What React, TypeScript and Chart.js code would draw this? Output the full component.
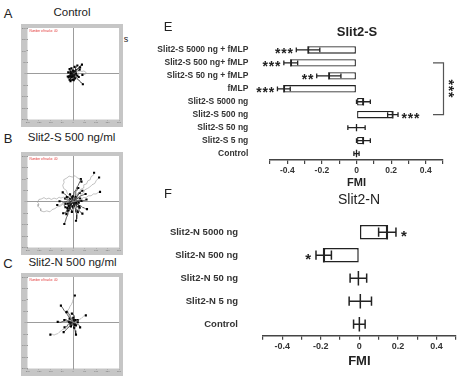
import React, { useEffect, useRef } from 'react';
import { Chart, registerables } from 'chart.js';
Chart.register(...registerables);

type Pt = [number, number];

// ---------- Panel E data ----------
const labelsE = ['Slit2-S 5000 ng + fMLP', 'Slit2-S 500 ng+ fMLP', 'Slit2-S 50 ng + fMLP', 'fMLP', 'Slit2-S 5000 ng', 'Slit2-S 500 ng', 'Slit2-S 50 ng', 'Slit2-S 5 ng', 'Control'];
const meansE = [-0.28, -0.38, -0.16, -0.42, 0.04, 0.21, 0, 0.04, 0];
const errsE = [0.068, 0.04, 0.07, 0.037, 0.04, 0.03, 0.05, 0.04, 0.015];
const starsE = ['***', '***', '**', '***', '', '***', '', '', ''];
const bracketE: [number, number] = [1, 5];
const bracketStarsE = '***';

// ---------- Panel F data ----------
const labelsF = ['Slit2-N 5000 ng', 'Slit2-N 500 ng', 'Slit2-N 50 ng', 'Slit2-N 5 ng', 'Control'];
const meansF = [0.145, -0.185, -0.005, 0.005, 0];
const errsF = [0.045, 0.04, 0.043, 0.058, 0.03];
const starsF = ['*', '*', '', '', ''];

const fmiTicks = [-0.4, -0.2, 0, 0.2, 0.4];

// ---------- Trajectory data (µm) ----------
const tracksAGray: Pt[][] = [
  [[0, 0], [8, 4], [14, 10], [22, 8], [30, 12], [38, 10], [46, 12], [54, 8], [57, 2], [52, -3], [44, -2], [40, -5]],
];
const tracksABlack: Pt[][] = [
  [[0, 0], [4, 8], [10, 10], [12, 18], [20, 20], [24, 28], [30, 30], [34, 38], [38, 40]],
  [[0, 0], [6, -6], [8, -14], [16, -18], [20, -26], [28, -30], [32, -38], [38, -40], [42, -46]],
  [[0, 0], [-4, 4], [-6, 10], [-12, 12], [-14, 18], [-16, 20]],
  [[0, 0], [-6, -2], [-8, -8], [-14, -10], [-16, -14], [-20, -16]],
  [[0, 0], [4, -6], [2, -12], [6, -18], [4, -24], [2, -28]],
  [[0, 0], [-6, 2], [-10, 6], [-14, 2], [-18, 4], [-22, 6]],
  [[0, 0], [4, 6], [2, 12], [8, 16], [10, 22], [6, 26], [6, 30]],
  [[0, 0], [6, 4], [10, 10], [16, 10], [20, 14], [24, 14], [28, 18]],
  [[0, 0], [-2, -8], [-6, -12], [-4, -20], [-10, -24], [-8, -30], [-12, -32]],
  [[0, 0], [6, -2], [10, -8], [16, -8], [20, -12], [24, -14]],
  [[0, 0], [-6, -4], [-10, -2], [-14, -8], [-20, -8], [-24, -12]],
  [[0, 0], [2, 6], [-2, 10], [-2, 16], [-6, 20], [-8, 24]],
  [[0, 0], [4, 2], [8, 0], [12, -2], [14, -6], [18, -8]],
  [[0, 0], [-2, -6], [2, -10], [4, -14], [6, -18], [8, -20]],
  [[0, 0], [8, 10], [12, 16], [18, 20], [24, 26], [30, 28]],
  [[0, 0], [-4, -2], [-6, -6], [-10, -8]],
  [[0, 0], [2, 4], [6, 6], [10, 4]],
  [[0, 0], [-2, 4], [-6, 2], [-8, 0]],
  [[0, 0], [2, -4], [0, -8], [-4, -10]],
  [[0, 0], [4, 0], [6, -4], [4, -8]],
  [[0, 0], [-4, 6], [-6, 10], [-2, 14]],
  [[0, 0], [4, 8], [10, 14], [10, 22], [14, 30], [18, 36]],
  [[0, 0], [-6, -8], [-14, -14], [-10, -20], [-14, -24], [-16, -26]],
  [[0, 0], [-4, -2], [-6, 4], [-10, 2]],
  [[0, 0], [2, 4], [-2, 8], [0, 12]],
  [[0, 0], [-2, -4], [2, -8], [-1, -12]],
  [[0, 0], [4, -2], [8, 2], [12, 0]],
  [[0, 0], [-4, 6], [-8, 4], [-12, 8]],
  [[0, 0], [-6, -6], [-4, -10], [-8, -14]],
  [[0, 0], [6, 2], [4, 8], [8, 10]],
  [[0, 0], [-2, -6], [-6, -4], [-10, -8]],
  [[0, 0], [-8, 0], [-10, -6], [-14, -4], [-16, -10]],
  [[0, 0], [2, -10], [-2, -16], [0, -22], [-4, -26]],
];

const tracksBGray: Pt[][] = [
  [[0, 0], [-12, 6], [-20, 14], [-32, 12], [-42, 20], [-54, 16], [-62, 20], [-72, 12], [-84, 16], [-96, 10], [-106, 16], [-118, 12], [-128, 18], [-140, 12], [-150, 10], [-156, -2], [-150, -10], [-154, -20], [-144, -30], [-142, -40], [-128, -44], [-116, -40], [-102, -44], [-92, -34], [-80, -30], [-70, -22], [-56, -20], [-46, -10], [-34, -8]],
  [[0, 0], [4, 12], [14, 20], [16, 34], [28, 40], [32, 54], [44, 60], [46, 74], [58, 78], [64, 92], [74, 96], [78, 110], [88, 116], [91, 127]],
  [[0, 0], [12, 6], [18, 18], [30, 22], [34, 34], [46, 40], [50, 52], [62, 58], [72, 64], [82, 74], [94, 80], [100, 92], [113, 106]],
  [[0, 0], [12, 2], [22, 10], [34, 10], [44, 18], [56, 18], [66, 26], [78, 26], [88, 34], [100, 34], [108, 40], [117, 43]],
  [[0, 0], [-8, 12], [-14, 26], [-26, 36], [-30, 50], [-42, 58], [-46, 72], [-40, 84], [-42, 96], [-28, 104], [-18, 112], [-4, 108], [8, 114], [18, 104], [28, 100], [36, 88]],
  [[0, 0], [-14, -6], [-26, -2], [-36, -12], [-48, -8], [-58, -16], [-70, -14]],
];
const tracksBBlack: Pt[][] = [
  [[0, 0], [-4, 10], [-6, 22], [2, 30], [4, 42], [12, 52], [16, 64], [22, 72], [26, 82], [30, 90], [33, 99]],
  [[0, 0], [-6, -10], [-12, -22], [-14, -34], [-22, -46], [-24, -58], [-30, -70], [-34, -84], [-39, -97]],
  [[0, 0], [-8, -8], [-16, -16], [-18, -26], [-24, -34], [-26, -44], [-30, -54]],
  [[0, 0], [4, -12], [6, -22], [10, -34], [12, -46], [16, -56], [14, -66], [16, -76], [12, -83]],
  [[0, 0], [8, -6], [18, -10], [26, -16], [36, -20], [42, -26], [48, -26], [54, -32], [60, -32]],
  [[0, 0], [-8, 6], [-16, 14], [-22, 20], [-30, 28], [-38, 34], [-46, 41]],
  [[0, 0], [6, 10], [14, 20], [18, 28], [26, 36], [32, 44], [40, 48]],
  [[0, 0], [10, 4], [20, 6], [30, 2], [40, 4], [50, 6], [58, 10]],
  [[0, 0], [-12, 2], [-24, 4], [-34, 0], [-44, -2], [-52, 2], [-60, 2]],
  [[0, 0], [-10, -14], [-20, -30], [-28, -38], [-34, -48], [-44, -50]],
  [[0, 0], [12, -12], [24, -28], [26, -38], [30, -44], [40, -52]],
  [[0, 0], [4, 14], [8, 28], [10, 36], [12, 44], [18, 52], [22, 60]],
  [[0, 0], [-6, 4], [-10, 10], [-16, 16], [-22, 24], [-28, 20]],
  [[0, 0], [6, -8], [12, -14], [16, -20], [20, -24], [26, -20]],
  [[0, 0], [-4, -6], [-8, -12], [-12, -16], [-14, -20], [-20, -18]],
  [[0, 0], [6, 4], [10, 8], [16, 12], [18, 16], [24, 16], [30, 14]],
  [[0, 0], [-8, 2], [-14, 0], [-18, -4], [-24, -8]],
  [[0, 0], [4, 6], [6, 14], [2, 20], [-2, 24]],
  [[0, 0], [4, -6], [4, -10], [0, -16], [-4, -20]],
  [[0, 0], [8, 2], [16, 4], [20, 0], [24, -4]],
  [[0, 0], [-4, 2], [-6, 6], [-10, 10], [-14, 12]],
  [[0, 0], [14, 10], [22, 18], [30, 24], [38, 28], [44, 30], [54, 34]],
  [[0, 0], [-14, -2], [-24, -6], [-30, -10], [-40, -16], [-34, -24]],
  [[0, 0], [-6, -4], [-10, -2], [-12, -8], [-16, -6]],
  [[0, 0], [4, -4], [8, -2], [10, -8], [14, -6]],
  [[0, 0], [-4, 6], [-2, 10], [-8, 12], [-6, 18]],
  [[0, 0], [6, 6], [4, 12], [10, 14], [12, 20]],
  [[0, 0], [-10, -8], [-12, -14], [-18, -12], [-22, -20], [-26, -28]],
  [[0, 0], [10, -4], [14, -12], [20, -10], [24, -16], [28, -26]],
  [[0, 0], [-12, 8], [-18, 6], [-24, 12], [-30, 10], [-36, 14]],
  [[0, 0], [2, -14], [-4, -22], [-2, -30], [-8, -36], [-6, -44]],
  [[0, 0], [12, 14], [14, 22], [20, 26], [22, 34], [28, 38]],
  [[0, 0], [-2, 8], [-8, 14], [-6, 20], [-12, 24], [-14, 32]],
  [[0, 0], [8, -16], [14, -22], [12, -30], [18, -36], [20, -46]],
  [[0, 0], [-14, -16], [-18, -24], [-16, -32], [-22, -38]],
  [[0, 0], [6, 2], [12, -2], [16, 4], [22, 2], [30, 6], [36, 4]],
];

const tracksCGray: Pt[][] = [
  [[0, 0], [-4, 10], [-8, 18], [-14, 26], [-18, 36], [-22, 44], [-24, 54], [-18, 62], [-14, 72], [-8, 80], [-4, 90], [-2, 98], [2, 106], [4, 114], [7, 119]],
  [[0, 0], [-10, -8], [-20, -16], [-30, -18], [-38, -26], [-48, -30], [-54, -36], [-62, -42], [-68, -48], [-76, -50], [-84, -54], [-92, -50], [-100, -52]],
  [[0, 0], [8, 2], [14, 8], [20, 10], [26, 14], [34, 18], [40, 24], [44, 28], [48, 30], [55, 32]],
  [[0, 0], [-8, 14], [-14, 24], [-20, 30], [-24, 40], [-30, 46]],
];
const tracksCBlack: Pt[][] = [
  [[0, 0], [-6, 8], [-12, 18], [-20, 26], [-26, 36], [-32, 46], [-40, 54], [-46, 64], [-54, 75]],
  [[0, 0], [-6, -8], [-14, -14], [-20, -20], [-28, -26], [-34, -34], [-42, -41]],
  [[0, 0], [2, -8], [4, -18], [6, -26], [8, -34], [10, -44], [12, -52]],
  [[0, 0], [-10, 2], [-22, 4], [-32, 8], [-44, 6], [-56, 2], [-68, 4]],
  [[0, 0], [-8, 2], [-14, 6], [-20, 8], [-26, 10], [-32, 14], [-39, 12]],
  [[0, 0], [-4, 12], [-10, 24], [-14, 32], [-20, 40], [-24, 46], [-28, 48]],
  [[0, 0], [8, -2], [14, -6], [20, -6], [24, -10], [28, -14], [30, -20]],
  [[0, 0], [-10, -2], [-20, -4], [-24, -10], [-30, -18], [-38, -20]],
  [[0, 0], [4, 8], [6, 16], [4, 24], [4, 30], [0, 36], [-6, 40]],
  [[0, 0], [-4, 4], [-8, 8], [-12, 12], [-16, 18]],
  [[0, 0], [6, 4], [10, 6], [16, 4], [20, 2]],
  [[0, 0], [-2, -4], [-6, -8], [-8, -12], [-10, -16]],
  [[0, 0], [4, -2], [8, -4], [10, -8], [12, -12]],
  [[0, 0], [-2, 6], [-4, 12], [-2, 18], [0, 22]],
  [[0, 0], [-6, -2], [-12, -2], [-14, 2], [-18, 4]],
  [[0, 0], [2, 2], [4, 4], [6, 8], [10, 12]],
  [[0, 0], [0, -6], [-2, -12], [2, -16], [4, -22]],
  [[0, 0], [-4, -2], [-6, 2], [-10, 0]],
  [[0, 0], [2, -4], [6, -6], [8, -10]],
  [[0, 0], [-2, 4], [2, 8], [4, 12]],
  [[0, 0], [-6, -6], [-8, -10], [-12, -8]],
  [[0, 0], [8, 8], [12, 10], [16, 14], [20, 12]],
];

const trackCounts = [40, 40, 40];
const trackAxisTicks = { min: -200, max: 200, step: 50 };

const FONT = '"Liberation Sans", Arial, sans-serif';

// ---------- Trajectory plot ----------
function TrackPlot(props: { left: number; top: number; gray: Pt[][]; black: Pt[][]; count: number }) {
  const ref = useRef<HTMLCanvasElement>(null);
  useEffect(() => {
    const mk = (t: Pt[], color: string, w: number) => ({
      data: t.map(([x, y]) => ({ x, y })),
      showLine: true,
      borderColor: color,
      borderWidth: w,
      tension: 0,
      pointRadius: t.map((_, i) => (i === t.length - 1 ? 1.5 : 0)),
      pointStyle: 'rect',
      pointBackgroundColor: '#000',
      pointBorderWidth: 0,
    });
    const frame = {
      id: 'frame',
      beforeDraw(chart: any) {
        const { ctx, chartArea: a, width, height } = chart;
        ctx.save();
        ctx.fillStyle = '#c6c6c6';
        ctx.fillRect(0, 0, width, height);
        ctx.fillStyle = '#fff';
        ctx.fillRect(a.left, a.top, a.right - a.left, a.bottom - a.top);
        ctx.restore();
      },
      afterDraw(chart: any) {
        const { ctx, chartArea: a } = chart;
        ctx.save();
        ctx.fillStyle = '#e03030';
        ctx.font = `3px ${FONT}`;
        ctx.textBaseline = 'middle';
        ctx.fillText(`Number of tracks: ${props.count}`, a.left + 2, a.top + 3.2);
        ctx.restore();
      },
    };
    const axis = (fit: (s: any) => void) => ({
      type: 'linear',
      min: trackAxisTicks.min,
      max: trackAxisTicks.max,
      ticks: { stepSize: trackAxisTicks.step, font: { size: 2.5, family: FONT }, color: '#777', padding: 0.5, autoSkip: false, maxRotation: 0 },
      grid: {
        color: (c: any) => (c.tick && c.tick.value === 0 ? '#9c9c9c' : 'rgba(0,0,0,0)'),
        lineWidth: 1,
        tickLength: 1,
        tickColor: '#999',
      },
      border: { display: false },
      afterFit: fit,
    });
    const chart = new Chart(ref.current!, {
      type: 'scatter',
      data: {
        datasets: [
          ...props.gray.map((t) => mk(t, '#9a9a9a', 0.6)),
          ...props.black.map((t) => mk(t, '#1a1a1a', 0.7)),
        ] as any,
      },
      options: {
        responsive: false,
        animation: false,
        layout: { padding: { top: 2, right: 3, left: 0, bottom: 0 } },
        plugins: { legend: { display: false }, tooltip: { enabled: false } },
        scales: {
          x: axis((s: any) => { s.height = 7.5; }),
          y: axis((s: any) => { s.width = 6.5; }),
        } as any,
      },
      plugins: [frame],
    });
    return () => chart.destroy();
  }, []);
  return (
    <div style={{ position: 'absolute', left: props.left, top: props.top, width: 102, height: 103 }}>
      <canvas ref={ref} width={102} height={103} />
    </div>
  );
}

// ---------- Bar panel ----------
type BarProps = {
  left: number; top: number; width: number; height: number;
  labels: string[]; means: number[]; errs: number[]; stars: string[];
  padTop: number; padRight: number; yWidth: number; xHeight: number;
  labelPad: number; labelSize: number; tickSize: number; tickPad: number;
  titleSize: number; titlePadBottom: number; borderW: number; barPct: number;
  starSize: number; starGap: number; bracket?: [number, number]; bracketStars?: string;
};

function BarPanel(p: BarProps) {
  const ref = useRef<HTMLCanvasElement>(null);
  useEffect(() => {
    const errPlugin = {
      id: 'errs',
      afterDatasetsDraw(chart: any) {
        const { ctx, chartArea: a } = chart;
        const meta = chart.getDatasetMeta(0);
        const xs = chart.scales.x;
        ctx.save();
        ctx.strokeStyle = '#222';
        ctx.fillStyle = '#222';
        ctx.lineWidth = p.borderW;
        meta.data.forEach((bar: any, i: number) => {
          const y = bar.y;
          const h = bar.height;
          const x0 = xs.getPixelForValue(p.means[i]);
          const x1 = xs.getPixelForValue(p.means[i] - p.errs[i]);
          const x2 = xs.getPixelForValue(p.means[i] + p.errs[i]);
          const c = h * 0.32;
          ctx.beginPath();
          ctx.moveTo(x0, y - h / 2); ctx.lineTo(x0, y + h / 2);
          ctx.moveTo(x1, y); ctx.lineTo(x2, y);
          ctx.moveTo(x1, y - c); ctx.lineTo(x1, y + c);
          ctx.moveTo(x2, y - c); ctx.lineTo(x2, y + c);
          ctx.stroke();
          const s = p.stars[i];
          if (s) {
            ctx.font = `bold ${p.starSize}px ${FONT}`;
            (ctx as any).letterSpacing = '0.8px';
            ctx.textBaseline = 'alphabetic';
            if (p.means[i] < 0) {
              ctx.textAlign = 'right';
              ctx.fillText(s, x1 - p.starGap, y + p.starSize * 0.6);
            } else {
              ctx.textAlign = 'left';
              ctx.fillText(s, x2 + p.starGap + 1, y + p.starSize * 0.6);
            }
            (ctx as any).letterSpacing = '0px';
          }
        });
        if (p.bracket) {
          const y1 = meta.data[p.bracket[0]].y;
          const y2 = meta.data[p.bracket[1]].y;
          const x = a.right + 0.5;
          ctx.strokeStyle = '#555';
          ctx.lineWidth = 1.2;
          ctx.beginPath();
          ctx.moveTo(x - 10.5, y1); ctx.lineTo(x, y1); ctx.lineTo(x, y2); ctx.lineTo(x - 10.5, y2);
          ctx.stroke();
          ctx.translate(x + 9, (y1 + y2) / 2);
          ctx.rotate(Math.PI / 2);
          ctx.font = `bold ${p.starSize}px ${FONT}`;
          (ctx as any).letterSpacing = '0.8px';
          ctx.textAlign = 'center';
          ctx.textBaseline = 'alphabetic';
          ctx.fillStyle = '#222';
          ctx.fillText(p.bracketStars || '', 0, p.starSize * 0.6);
        }
        ctx.restore();
      },
    };
    const chart = new Chart(ref.current!, {
      type: 'bar',
      data: {
        labels: p.labels,
        datasets: [{
          data: p.means,
          backgroundColor: '#fff',
          borderColor: '#222',
          borderWidth: p.borderW,
          borderSkipped: false,
          barPercentage: p.barPct,
          categoryPercentage: 1,
        }],
      },
      options: {
        indexAxis: 'y',
        responsive: false,
        animation: false,
        layout: { padding: { top: p.padTop, right: p.padRight, left: 0, bottom: 0 } },
        plugins: { legend: { display: false }, tooltip: { enabled: false } },
        scales: {
          x: {
            type: 'linear',
            min: -0.5,
            max: 0.5,
            ticks: {
              stepSize: 0.1,
              autoSkip: false,
              maxRotation: 0,
              padding: p.tickPad,
              color: '#333',
              font: { size: p.tickSize, weight: 'bold', family: FONT },
              callback: (v: any) => {
                const r = Math.round(Number(v) * 10);
                const hit = fmiTicks.find((t) => Math.round(t * 10) === r);
                return hit === undefined ? '' : String(hit);
              },
            },
            grid: { drawOnChartArea: false, drawTicks: true, tickLength: 4, color: '#444', lineWidth: 1.2 },
            border: { display: true, color: '#444', width: 1.5 },
            title: {
              display: true,
              text: 'FMI',
              color: '#222',
              font: { size: p.titleSize, weight: 'bold', family: FONT },
              padding: { top: 0, bottom: p.titlePadBottom },
            },
            afterFit: (s: any) => { s.height = p.xHeight; },
          },
          y: {
            type: 'category',
            grid: { display: false, drawTicks: false },
            border: { display: false },
            ticks: {
              padding: p.labelPad,
              color: '#333',
              autoSkip: false,
              font: { size: p.labelSize, weight: 'bold', family: FONT },
            },
            afterFit: (s: any) => { s.width = p.yWidth; },
          },
        } as any,
      },
      plugins: [errPlugin],
    });
    return () => chart.destroy();
  }, []);
  return (
    <div style={{ position: 'absolute', left: p.left, top: p.top, width: p.width, height: p.height }}>
      <canvas ref={ref} width={p.width} height={p.height} />
    </div>
  );
}

function T(props: { x: number; y: number; size: number; bold?: boolean; children: React.ReactNode }) {
  return (
    <div
      style={{
        position: 'absolute',
        left: props.x,
        top: props.y,
        transform: 'translate(-50%, -50%)',
        fontSize: props.size,
        fontWeight: props.bold ? 'bold' : 'normal',
        lineHeight: 1,
        whiteSpace: 'nowrap',
        color: '#222',
        fontFamily: FONT,
      }}
    >
      {props.children}
    </div>
  );
}

export default function App() {
  return (
    <div style={{ position: 'fixed', left: 0, top: 0, width: 474, height: 382, background: '#fff', overflow: 'hidden', fontFamily: FONT }}>
      <T x={8} y={13} size={13}>A</T>
      <T x={72} y={13.3} size={11.5}>Control</T>
      <T x={126} y={39} size={9}>s</T>
      <T x={8} y={138} size={13}>B</T>
      <T x={71.5} y={138.3} size={11.5}>Slit2-S 500 ng/ml</T>
      <T x={8} y={263} size={13}>C</T>
      <T x={72.5} y={262.7} size={11.5}>Slit2-N 500 ng/ml</T>

      <TrackPlot left={21} top={24} gray={tracksAGray} black={tracksABlack} count={trackCounts[0]} />
      <TrackPlot left={21} top={152} gray={tracksBGray} black={tracksBBlack} count={trackCounts[1]} />
      <TrackPlot left={21} top={273} gray={tracksCGray} black={tracksCBlack} count={trackCounts[2]} />

      <BarPanel
        left={150} top={0} width={324} height={190}
        labels={labelsE} means={meansE} errs={errsE} stars={starsE}
        padTop={43.5} padRight={31} yWidth={120} xHeight={30}
        labelPad={21.7} labelSize={8.5} tickSize={8.5} tickPad={2}
        titleSize={11} titlePadBottom={0.4} borderW={1.3} barPct={0.57}
        starSize={14} starGap={2.5} bracket={bracketE} bracketStars={bracketStarsE}
      />
      <BarPanel
        left={150} top={190} width={324} height={192}
        labels={labelsF} means={meansF} errs={errsF} stars={starsF}
        padTop={17.2} padRight={18.3} yWidth={113} xHeight={46.3}
        labelPad={25} labelSize={9.5} tickSize={9} tickPad={1.5}
        titleSize={13} titlePadBottom={12.5} borderW={1.5} barPct={0.625}
        starSize={15} starGap={4}
      />

      <T x={168} y={26} size={13}>E</T>
      <T x={357} y={31} size={13} bold>Slit2-S</T>
      <T x={168} y={193} size={13}>F</T>
      <T x={359} y={199} size={14}>Slit2-N</T>
    </div>
  );
}
